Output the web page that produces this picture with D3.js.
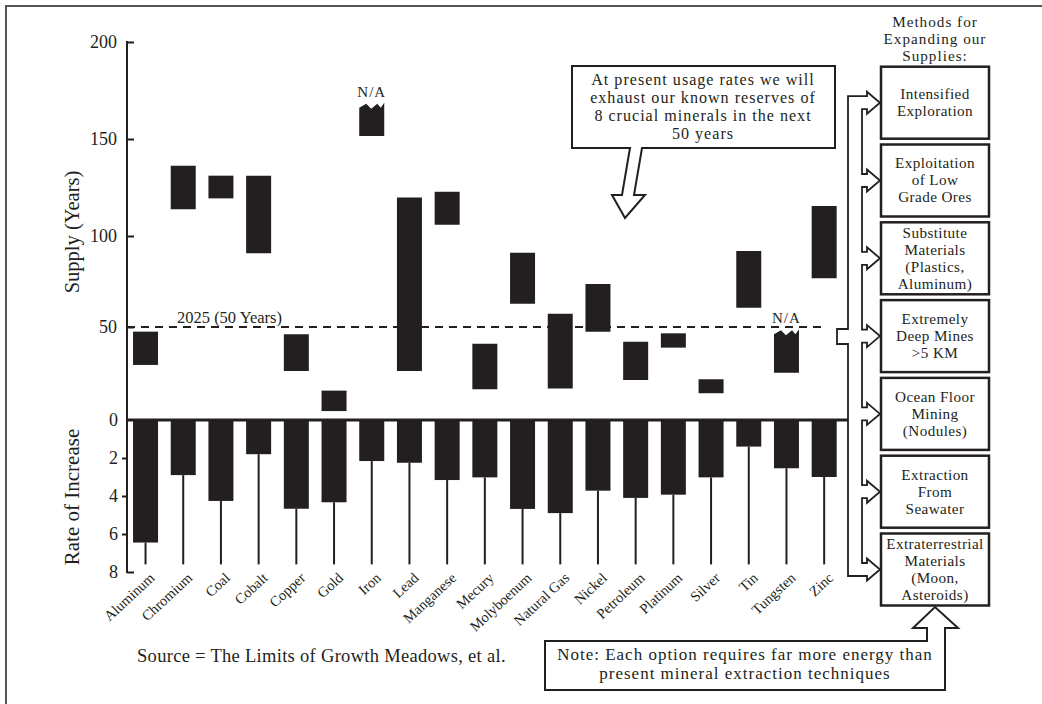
<!DOCTYPE html>
<html><head><meta charset="utf-8">
<script src="https://cdn.jsdelivr.net/npm/d3@7"></script>
<style>
body{margin:0;background:#fff}
svg{display:block}
text{font-family:"Liberation Serif","Times New Roman",serif;fill:#231f20}
</style>
</head><body><svg id="c" width="1042" height="704"></svg>
<script>
// ---------- data ----------
const minerals = ["Aluminum","Chromium","Coal","Cobalt","Copper","Gold","Iron","Lead","Manganese","Mecury","Molyboenum","Natural Gas","Nickel","Petroleum","Platinum","Silver","Tin","Tungsten","Zinc"];
const supplyHigh = [47.5,136.2,131.1,131.1,46.1,15.8,168.7,119.9,122.8,41.0,90.8,57.3,73.6,42.1,46.6,21.9,91.8,48.8,115.5];
const supplyLow  = [29.6,113.8,119.4,90.5,26.3,4.8,151.5,26.3,105.8,16.5,62.8,17.0,47.5,21.5,38.9,14.4,60.6,25.4,76.8];
const supplyNA   = [false,false,false,false,false,false,true,false,false,false,false,false,false,false,false,false,false,true,false];
const rateOfIncrease = [6.45,2.9,4.26,1.8,4.67,4.33,2.16,2.25,3.16,3.02,4.68,4.9,3.72,4.1,3.93,3.02,1.4,2.54,3.0];
const whiskerEnd = 7.6;
const supplyTicks = [0,50,100,150,200];
const rateTicks = [0,2,4,6,8];
const thresholdYears = 50;
const thresholdLabel = "2025 (50 Years)";
const naLabel = "N/A";
const supplyTitle = "Supply (Years)";
const rateTitle = "Rate of Increase";
const methodsTitle = ["Methods for","Expanding our","Supplies:"];
const methods = [
  ["Intensified","Exploration"],
  ["Exploitation","of Low","Grade Ores"],
  ["Substitute","Materials","(Plastics,","Aluminum)"],
  ["Extremely","Deep Mines",">5 KM"],
  ["Ocean Floor","Mining","(Nodules)"],
  ["Extraction","From","Seawater"],
  ["Extraterrestrial","Materials","(Moon,","Asteroids)"]
];
const calloutLines = ["At present usage rates we will","exhaust our known reserves of","8 crucial minerals in the next","50 years"];
const noteLines = ["Note: Each option requires far more energy than","present mineral extraction techniques"];
const sourceText = "Source = The Limits of Growth Meadows, et al.";

// ---------- setup ----------
const ink = "#231f20";
const svg = d3.select("#c");

// frame
svg.append("rect").attr("x",6).attr("y",6).attr("width",1100).attr("height",800)
  .attr("fill","none").attr("stroke","#555").attr("stroke-width",2);

const x = d3.scaleBand().domain(minerals).range([127, 842.7]).paddingInner(0.337).paddingOuter(0.16);
const ySup = d3.scaleLinear().domain(supplyTicks).range([420,327,236,139,42]);
const yRate = d3.scaleLinear().domain([0,8]).range([420,572]);
const axisX = x.range()[0];

// ---------- supply bars ----------
const supData = minerals.map((m,i)=>({m, hi:supplyHigh[i], lo:supplyLow[i], na:supplyNA[i], rate:rateOfIncrease[i]}));
const jag = [[0,4],[0.28,0],[0.48,5],[0.72,0],[0.86,4],[1,-1]];
svg.append("g").selectAll("path").data(supData).join("path")
  .attr("fill", ink)
  .attr("d", d=>{
    const x0 = x(d.m), w = x.bandwidth(), yt = ySup(d.hi), yb = ySup(d.lo);
    if(!d.na) return `M${x0},${yt}H${x0+w}V${yb}H${x0}Z`;
    let p = `M${x0},${yb}`;
    jag.forEach(([fx,dy])=>{ p += `L${x0+fx*w},${yt+1+dy}`; });
    p += `L${x0+w},${yb}Z`;
    return p;
  });
svg.append("g").selectAll("text").data(supData.filter(d=>d.na)).join("text")
  .attr("x", d=>x(d.m)+x.bandwidth()/2).attr("y", d=>ySup(d.hi)-6)
  .attr("text-anchor","middle").attr("font-size",15).attr("letter-spacing",1).text(naLabel);

// threshold dashed line
svg.append("line").attr("x1",axisX).attr("x2",823).attr("y1",ySup(thresholdYears)).attr("y2",ySup(thresholdYears))
  .attr("stroke",ink).attr("stroke-width",2).attr("stroke-dasharray","8,6");
svg.append("text").attr("x",177).attr("y",ySup(thresholdYears)-4).attr("font-size",16.5).text(thresholdLabel);

// ---------- rate bars ----------
svg.append("g").selectAll("line").data(supData).join("line")
  .attr("x1", d=>x(d.m)+x.bandwidth()/2).attr("x2", d=>x(d.m)+x.bandwidth()/2)
  .attr("y1", d=>yRate(d.rate)).attr("y2", yRate(whiskerEnd))
  .attr("stroke", ink).attr("stroke-width",2);
svg.append("g").selectAll("rect").data(supData).join("rect")
  .attr("x", d=>x(d.m)).attr("width", x.bandwidth())
  .attr("y", yRate(0)).attr("height", d=>yRate(d.rate)-yRate(0))
  .attr("fill", ink);

// zero line
svg.append("line").attr("x1",axisX).attr("x2",848).attr("y1",yRate(0)).attr("y2",yRate(0))
  .attr("stroke",ink).attr("stroke-width",3);

// ---------- axes ----------
const gS = svg.append("g").attr("transform",`translate(${axisX},0)`)
  .call(d3.axisLeft(ySup).tickValues(supplyTicks.filter(v=>v>0)).tickSizeInner(-7).tickSizeOuter(0).tickPadding(10).tickFormat(d3.format("d")));
gS.select(".domain").remove();
gS.selectAll(".tick line").attr("stroke",ink).attr("stroke-width",2);
gS.selectAll(".tick text").attr("font-size",18).attr("font-family","Liberation Serif").attr("fill",ink);

const gR = svg.append("g").attr("transform",`translate(${axisX},0)`)
  .call(d3.axisLeft(yRate).tickValues(rateTicks).tickSizeInner(5).tickSizeOuter(0).tickPadding(4).tickFormat(d3.format("d")));
gR.select(".domain").remove();
gR.selectAll(".tick line").attr("stroke",ink).attr("stroke-width",2)
  .attr("x2", d=> d===0 ? 0 : (d===8 ? 7 : -5));
gR.selectAll(".tick text").attr("font-size",18).attr("font-family","Liberation Serif").attr("fill",ink);

svg.append("line").attr("x1",axisX).attr("x2",axisX).attr("y1",ySup(200)-1).attr("y2",yRate(8)+1)
  .attr("stroke",ink).attr("stroke-width",2);

// axis titles
svg.append("text").attr("transform",`translate(79,${ySup(100)-4}) rotate(-90)`).attr("text-anchor","middle")
  .attr("font-size",20.5).text(supplyTitle);
svg.append("text").attr("transform",`translate(79,497) rotate(-90)`).attr("text-anchor","middle")
  .attr("font-size",21).text(rateTitle);

// category labels
svg.append("g").selectAll("text").data(minerals).join("text")
  .attr("transform", d=>`translate(${x(d)+x.bandwidth()/2+10},579) rotate(-43)`)
  .attr("text-anchor","end").attr("font-size",14.5).text(d=>d);

// source
svg.append("text").attr("x",137).attr("y",662).attr("font-size",18.5).attr("letter-spacing",0.3).text(sourceText);

// ---------- callout ----------
svg.append("path").attr("d","M642,148H835V66H572V148H630L622,195H612L625,218L645,195H634Z")
  .attr("fill","#fff").attr("stroke",ink).attr("stroke-width",2).attr("stroke-linejoin","miter");
svg.append("g").selectAll("text").data(calloutLines).join("text")
  .attr("x",703).attr("y",(d,i)=>85+i*18).attr("text-anchor","middle")
  .attr("font-size",16.1).attr("letter-spacing",1.0).text(d=>d);

// ---------- methods ----------
const by = d3.scaleBand().domain(d3.range(methods.length)).range([66.7,605.5]).paddingInner(0.0746);
const bx0 = 881, bx1 = 989;
svg.append("g").selectAll("text").data(methodsTitle).join("text")
  .attr("x",(bx0+bx1)/2).attr("y",(d,i)=>27+i*17).attr("text-anchor","middle")
  .attr("font-size",15.2).attr("letter-spacing",1.0).text(d=>d);

const centers = methods.map((m,i)=>by(i)+by.bandwidth()/2);
// connector (hollow arrow trunk)
const outerX = 848, innerX = 862, headX = 867, tipX = 880, sh = 6.5, hh = 11;
const stubTop = ySup(thresholdYears)+2, stubBot = stubTop+15;
let p = `M${outerX},${centers[0]-sh}`;
centers.forEach((c,i)=>{
  if(i>0) p += `L${innerX},${centers[i-1]+sh}L${innerX},${c-sh}`;
  p += `L${headX},${c-sh}L${headX},${c-hh}L${tipX},${c}L${headX},${c+hh}L${headX},${c+sh}`;
});
p += `L${outerX},${centers[centers.length-1]+sh}L${outerX},${stubBot}L837,${stubBot}L837,${stubTop}L${outerX},${stubTop}Z`;
svg.append("path").attr("d",p).attr("fill","#fff").attr("stroke",ink).attr("stroke-width",1.8);

const boxes = svg.append("g").selectAll("g").data(methods).join("g");
boxes.append("rect").attr("x",bx0).attr("width",bx1-bx0)
  .attr("y",(d,i)=>by(i)).attr("height",by.bandwidth())
  .attr("fill","#fff").attr("stroke",ink).attr("stroke-width",2.5);
boxes.each(function(lines,i){
  const c = centers[i], n = lines.length;
  d3.select(this).selectAll("text").data(lines).join("text")
    .attr("x",(bx0+bx1)/2).attr("y",(d,j)=>c+5+(j-(n-1)/2)*17)
    .attr("text-anchor","middle").attr("font-size",15.2).attr("letter-spacing",0.4).text(d=>d);
});

// ---------- note ----------
const noteTipX = (bx0+bx1)/2, noteTipY = by(methods.length-1)+by.bandwidth()+1.5;
svg.append("path").attr("d",`M545,641H927V628H913L${noteTipX},${noteTipY}L958,628H945V690H545Z`)
  .attr("fill","#fff").attr("stroke",ink).attr("stroke-width",2);
svg.append("g").selectAll("text").data(noteLines).join("text")
  .attr("x",745).attr("y",(d,i)=>659.5+i*19).attr("text-anchor","middle")
  .attr("font-size",17).attr("letter-spacing",1.0).text(d=>d);
</script>
</body></html>
